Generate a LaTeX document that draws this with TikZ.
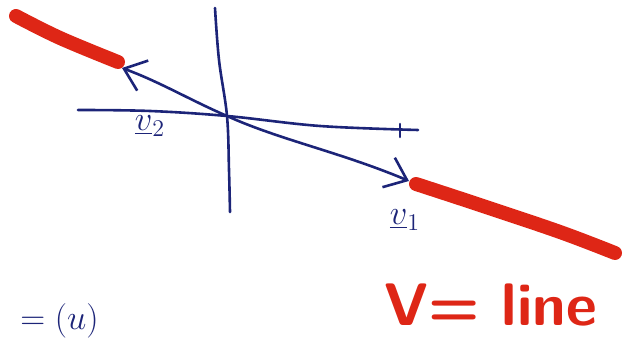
\documentclass[tikz,border=0pt]{standalone}
\usetikzlibrary{arrows.meta}

\definecolor{inkblue}{RGB}{28,36,120}
\definecolor{inkred}{RGB}{222,38,22}

\begin{document}
\begin{tikzpicture}[x=0.5pt, y=-0.5pt,
        pen/.style={inkblue, line width=1.3pt, line cap=round, line join=round},
        vecarrow/.style={pen, -{Straight Barb[length=10pt, width=16pt, line width=1.3pt]}},
        marker/.style={inkred, line width=7pt, line cap=round},
        lbl/.style={inkblue, font=\LARGE}]

        % fix the frame of the sheet
        \useasboundingbox (0,0) rectangle (627,340);

        % ==========================================
        % AXES
        % ==========================================

        \coordinate (O) at (227,116);

        % horizontal axis with a tick on the right
        \draw[pen] plot[smooth, tension=0.6] coordinates {(78,110) (150,111) (O) (320,126) (418,130)};
        \draw[pen] (400,124) -- (400,137);

        % vertical axis
        \draw[pen] plot[smooth, tension=0.6] coordinates {(215,8) (219,60) (O) (229,170) (230,212)};

        % ==========================================
        % THE TWO VECTORS
        % ==========================================

        \coordinate (tip2) at (122,68);
        \coordinate (tip1) at (409,181);

        \draw[vecarrow] (O) .. controls (190,100) and (160,82) .. (tip2);
        \draw[vecarrow] (O) .. controls (280,140) and (340,152) .. (tip1);

        \node[lbl] (v2) at (150,126) {$\underline{v}_2$};
        \node[lbl] (v1) at (405,220) {$\underline{v}_1$};

        % ==========================================
        % THE LINE (red marker beyond the tips)
        % ==========================================

        \draw[marker] plot[smooth, tension=0.6] coordinates {(16,16) (60,38) (118,62)};
        \draw[marker] plot[smooth, tension=0.6] coordinates {(416,184) (480,205) (560,232) (615,253)};

        % caption, bottom right
        \node[inkred, font=\sffamily\bfseries\fontsize{30}{32}\selectfont, anchor=base west, inner sep=0pt] (cap) at (384,326) {V= line};

        % text at the bottom left
        \node[inkblue, font=\fontsize{16}{18}\selectfont, anchor=base west, inner sep=0pt] (cut) at (20,330) {$=(u)$};

\end{tikzpicture}
\end{document}
